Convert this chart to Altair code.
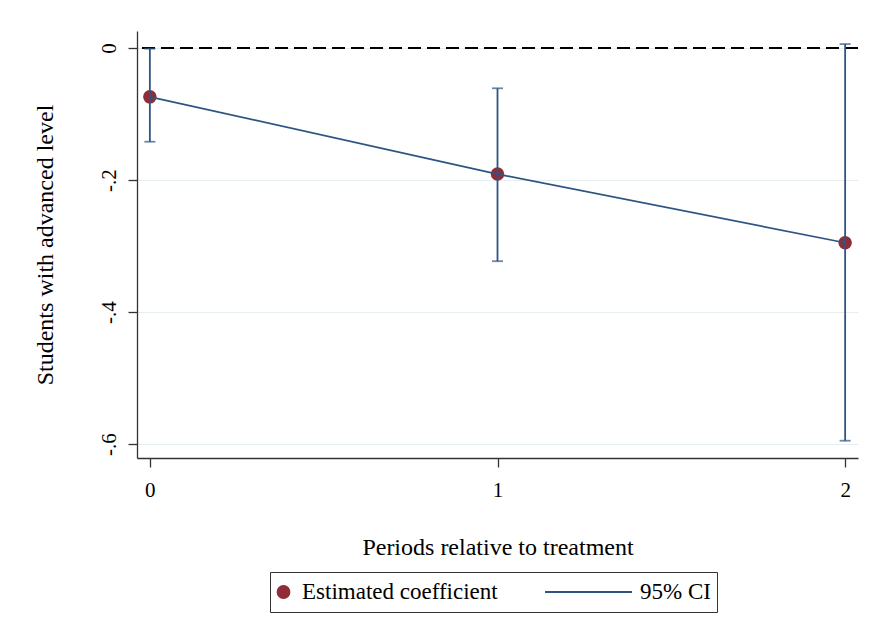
import altair as alt
import pandas as pd

# ---- data ----
periods = [0, 1, 2]
coef = [-0.074, -0.191, -0.295]
ci_low = [-0.142, -0.323, -0.595]
ci_high = [-0.001, -0.061, 0.006]
ref_value = [0.0]
series_names = ["Estimated coefficient", "95% CI"]
x_ticks = [0, 1, 2]
y_ticks = [0, -0.2, -0.4, -0.6]

RED = "#8f2d38"
BLUE = "#2e5582"
FONT = "Liberation Serif"

df = pd.DataFrame({
    "period": periods,
    "coef": coef,
    "lo": ci_low,
    "hi": ci_high,
    "series": [series_names[0]] * len(periods),
})
ref_df = pd.DataFrame({"y": ref_value})

x_scale = alt.Scale(domain=[-0.037, 2.037], nice=False, zero=False)
y_scale = alt.Scale(domain=[-0.6212, 0.0258], nice=False, zero=False)

x_axis = alt.Axis(
    title="Periods relative to treatment", values=x_ticks, tickCount=3,
    labelExpr="format(datum.value, 'd')",
    grid=False, labelPadding=12, titlePadding=35, labelOverlap=False,
    labelFlush=False,
)
y_axis = alt.Axis(
    title="Students with advanced level", values=y_ticks, tickCount=4,
    labelExpr="datum.value == 0 ? '0' : '-' + replace(format(abs(datum.value), '.1f'), '0.', '.')",
    grid=True, labelAngle=270, labelAlign="center", labelBaseline="bottom",
    labelPadding=9, titlePadding=41, labelOverlap=False, labelFlush=False,
)

X = alt.X("period:Q", scale=x_scale, axis=x_axis)

base = alt.Chart(df)

ref_line = alt.Chart(ref_df).mark_rule(
    color="black", strokeWidth=2, strokeDash=[13, 6]
).encode(y=alt.Y("y:Q", scale=y_scale, axis=y_axis))

sel_domain = series_names
points = base.mark_point(filled=True, opacity=1, strokeWidth=1.5).encode(
    x=X,
    y=alt.Y("coef:Q", scale=y_scale, axis=y_axis),
    fill=alt.Fill("series:N", scale=alt.Scale(domain=sel_domain, range=[RED, BLUE]),
                  legend=alt.Legend(title=None)),
    stroke=alt.Stroke("series:N", scale=alt.Scale(domain=sel_domain, range=[RED, BLUE]),
                      legend=alt.Legend(title=None)),
    shape=alt.Shape("series:N", scale=alt.Scale(domain=sel_domain, range=["circle", "stroke"]),
                    legend=alt.Legend(title=None)),
    size=alt.Size("series:N", scale=alt.Scale(type="point", padding=0, domain=sel_domain, range=[144, 8100]),
                  legend=alt.Legend(title=None)),
)

line = base.mark_line(color=BLUE, strokeWidth=1.7).encode(
    x=X,
    y=alt.Y("coef:Q", scale=y_scale, axis=y_axis),
)

bars = base.mark_rule(color=BLUE, strokeWidth=1.8).encode(
    x=X,
    y=alt.Y("lo:Q", scale=y_scale, axis=y_axis),
    y2="hi:Q",
)
caps_lo = base.mark_tick(color=BLUE, orient="horizontal", size=11, thickness=1.8).encode(
    x=X,
    y=alt.Y("lo:Q", scale=y_scale, axis=y_axis),
)
caps_hi = base.mark_tick(color=BLUE, orient="horizontal", size=11, thickness=1.8).encode(
    x=X,
    y=alt.Y("hi:Q", scale=y_scale, axis=y_axis),
)

chart = alt.layer(ref_line, points, line, bars, caps_lo, caps_hi).properties(
    width=721, height=427,
    autosize=alt.AutoSizeParams(type="none"),
    padding={"left": 129, "top": 23, "right": 4, "bottom": 165},
    background="white",
).configure_view(
    stroke=None
).configure_axis(
    labelFont=FONT, titleFont=FONT, labelFontSize=21, titleFontSize=24,
    labelColor="black", titleColor="black", titleFontWeight="normal",
    domainColor="#333333", domainWidth=1.3, tickColor="#333333", tickWidth=1.3,
    tickSize=9, gridColor="#e6eef2", gridWidth=1,
).configure_legend(
    orient="none", legendX=133, legendY=541, direction="horizontal",
    strokeColor="#333333", padding=6, labelFont=FONT, labelFontSize=23,
    labelColor="black", labelOffset=7, symbolOffset=-4, columnPadding=47,
    clipHeight=28, symbolStrokeWidth=1.8, symbolOpacity=1, labelLimit=0,
)

chart.save("out.html", embed_options={"renderer": "svg", "actions": False})
